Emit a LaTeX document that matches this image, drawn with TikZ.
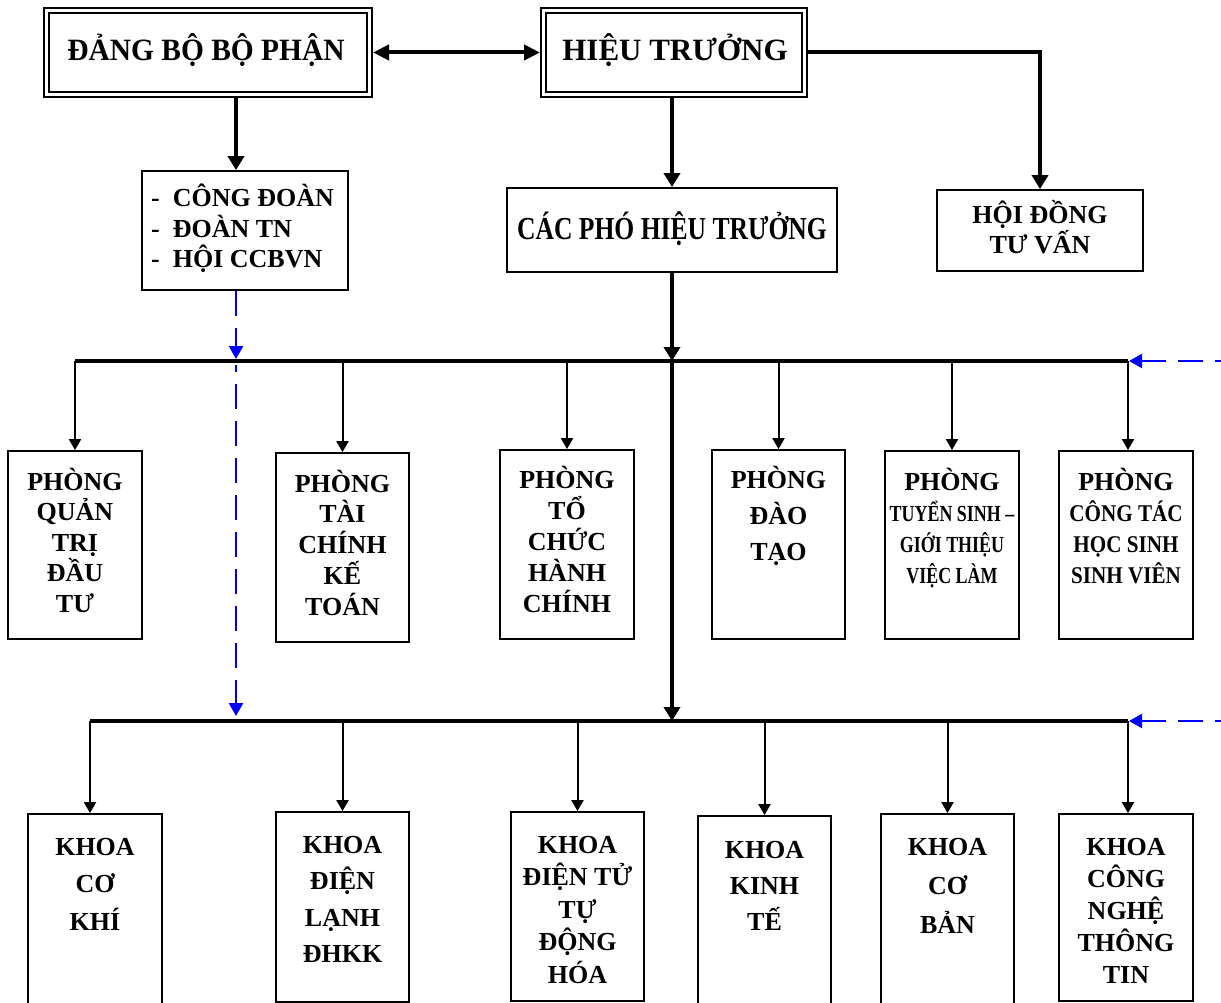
\documentclass[tikz,border=0pt]{standalone}
\usepackage{fontspec}
\setmainfont{Liberation Serif}
\newfontfamily\condA{Liberation Serif}[FakeStretch=0.8]
\newfontfamily\condB{Liberation Serif}[FakeStretch=0.78]
\newfontfamily\condC{Liberation Serif}[FakeStretch=0.88]
\newfontfamily\condD{Liberation Serif}[FakeStretch=0.95]
\usetikzlibrary{arrows.meta}
\tikzset{
  bx/.style={draw, line width=1.8pt, inner sep=0pt},
  dbl/.style={draw, line width=2pt, double, double distance=3pt, inner sep=0pt, outer sep=3.5pt},
  txt/.style={align=center, anchor=base, inner sep=0pt, font=\bfseries\fontsize{26}{31}\selectfont},
  thk/.style={line width=4pt},
  thkarr/.style={line width=4pt, -{Triangle[length=14pt,width=16pt]}},
  thnarr/.style={line width=2pt, -{Triangle[length=11pt,width=12pt]}},
  bluarr/.style={draw=blue, line width=2.5pt, dash pattern=on 25pt off 12pt, -{Triangle[length=13pt,width=14pt]}}
}
\begin{document}
\begin{tikzpicture}[x=1pt, y=-1pt]
\useasboundingbox (0,0) rectangle (1221,1003);
\clip (0,0) rectangle (1221,1003);

% top level (text anchors are at the baseline of the LAST line)
\node[dbl, minimum width=323pt, minimum height=84pt] (dang) at (208,52.5) {};
\node[txt, font=\condD\bfseries\fontsize{31}{36}\selectfont] (dangt) at (206,61) {ĐẢNG BỘ BỘ PHẬN};
\node[dbl, minimum width=261pt, minimum height=84pt] (ht) at (674,52.5) {};
\node[txt, font=\bfseries\fontsize{31}{36}\selectfont] (htt) at (675,61) {HIỆU TRƯỞNG};

% second level
\node[bx, minimum width=206pt, minimum height=119pt] (cd) at (245,230.5) {};
\node[txt, align=left, anchor=base west] (cdt) at (151,268) {-\hspace{13pt}CÔNG ĐOÀN\\-\hspace{13pt}ĐOÀN TN\\-\hspace{13pt}HỘI CCBVN};
\node[bx, minimum width=330pt, minimum height=84pt] (cp) at (672,230) {};
\node[txt, font=\condA\bfseries\fontsize{32}{36}\selectfont] (cpt) at (672,240) {CÁC PHÓ HIỆU TRƯỞNG};
\node[bx, minimum width=206pt, minimum height=81pt] (hd) at (1040,230.5) {};
\node[txt, font=\bfseries\fontsize{26}{30}\selectfont] (hdt) at (1040,254) {HỘI ĐỒNG\\TƯ VẤN};

% phong row
\node[bx, minimum width=134pt, minimum height=188pt] (p1) at (75,545) {};
\node[txt, font=\bfseries\fontsize{26}{30.5}\selectfont] (p1t) at (75,612) {PHÒNG\\QUẢN\\TRỊ\\ĐẦU\\TƯ};
\node[bx, minimum width=133pt, minimum height=189pt] (p2) at (342.5,547.5) {};
\node[txt, font=\bfseries\fontsize{26}{30.7}\selectfont] (p2t) at (342.5,615) {PHÒNG\\TÀI\\CHÍNH\\KẾ\\TOÁN};
\node[bx, minimum width=134pt, minimum height=189pt] (p3) at (567,544.5) {};
\node[txt, font=\bfseries\fontsize{26}{31}\selectfont] (p3t) at (567,612) {PHÒNG\\TỔ\\CHỨC\\HÀNH\\CHÍNH};
\node[bx, minimum width=133pt, minimum height=189pt] (p4) at (778.5,544.5) {};
\node[txt, font=\bfseries\fontsize{26}{36}\selectfont] (p4t) at (778.5,560) {PHÒNG\\ĐÀO\\TẠO};
\node[bx, minimum width=134pt, minimum height=188pt] (p5) at (952,545) {};
\node[txt, font=\bfseries\fontsize{26}{31}\selectfont] (p5t) at (952,583) {PHÒNG\\{\condB\bfseries\fontsize{23}{31}\selectfont TUYỂN SINH –}\\{\condB\bfseries\fontsize{23}{31}\selectfont GIỚI THIỆU}\\{\condB\bfseries\fontsize{23}{31}\selectfont VIỆC LÀM}};
\node[bx, minimum width=134pt, minimum height=188pt] (p6) at (1126,545) {};
\node[txt, font=\bfseries\fontsize{26}{31}\selectfont] (p6t) at (1126,583) {PHÒNG\\{\condC\bfseries\fontsize{24}{31}\selectfont CÔNG TÁC}\\{\condC\bfseries\fontsize{24}{31}\selectfont HỌC SINH}\\{\condC\bfseries\fontsize{24}{31}\selectfont SINH VIÊN}};

% khoa row
\node[bx, minimum width=134pt, minimum height=196pt] (k1) at (95,912) {};
\node[txt, font=\bfseries\fontsize{26}{37.5}\selectfont] (k1t) at (95,930) {KHOA\\CƠ\\KHÍ};
\node[bx, minimum width=133pt, minimum height=190pt] (k2) at (342.5,907) {};
\node[txt, font=\bfseries\fontsize{26}{36.5}\selectfont] (k2t) at (342.5,962.5) {KHOA\\ĐIỆN\\LẠNH\\ĐHKK};
\node[bx, minimum width=133pt, minimum height=189pt] (k3) at (577.5,906.5) {};
\node[txt, font=\bfseries\fontsize{26}{32.5}\selectfont] (k3t) at (577.5,983) {KHOA\\ĐIỆN TỬ\\TỰ\\ĐỘNG\\HÓA};
\node[bx, minimum width=133pt, minimum height=194pt] (k4) at (764.5,913) {};
\node[txt, font=\bfseries\fontsize{26}{36}\selectfont] (k4t) at (764.5,930) {KHOA\\KINH\\TẾ};
\node[bx, minimum width=133pt, minimum height=196pt] (k5) at (947.5,912) {};
\node[txt, font=\bfseries\fontsize{26}{39}\selectfont] (k5t) at (947.5,933) {KHOA\\CƠ\\BẢN};
\node[bx, minimum width=134pt, minimum height=187pt] (k6) at (1126,907.5) {};
\node[txt, font=\bfseries\fontsize{26}{32}\selectfont] (k6t) at (1126,983) {KHOA\\CÔNG\\NGHỆ\\THÔNG\\TIN};

% helper coordinates
\coordinate (dx) at (236,0);
\coordinate (b1w) at (75,361);
\coordinate (b1e) at (1128,361);
\coordinate (b2w) at (90,721);
\coordinate (b2e) at (1128,721);
\coordinate (j1) at (672,361);
\coordinate (j2) at (672,721);
\coordinate (bl1) at (236,359);
\coordinate (bl2) at (236,365);
\coordinate (bl3) at (236,716);
\coordinate (r1) at (1240,361);
\coordinate (r2) at (1240,721);

% top connectors
\draw[line width=4pt, {Triangle[length=16pt,width=15pt]}-{Triangle[length=16pt,width=15pt]}] (dang.east) -- (ht.west);
\draw[thkarr] (ht.east) -| (hd.north);
\draw[thkarr] (dx |- dang.south) -- (dx |- cd.north);
\draw[thkarr] (ht.south -| cp.north) -- (cp.north);
\draw[thkarr] (cp.south) -- (j1);
\draw[thkarr] (j1) -- (j2);

% buses
\draw[thk] (b1w) -- (b1e);
\draw[thk] (b2w) -- (b2e);

% phong arrows
\draw[thnarr] (b1w) -- (b1w |- p1.north);
\draw[thnarr] (b1w -| p2.north) -- (p2.north);
\draw[thnarr] (b1w -| p3.north) -- (p3.north);
\draw[thnarr] (b1w -| p4.north) -- (p4.north);
\draw[thnarr] (b1w -| p5.north) -- (p5.north);
\draw[thnarr] (b1e) -- (b1e |- p6.north);

% khoa arrows
\draw[thnarr] (b2w) -- (b2w |- k1.north);
\draw[thnarr] (b2w -| k2.north) -- (k2.north);
\draw[thnarr] (b2w -| k3.north) -- (k3.north);
\draw[thnarr] (b2w -| k4.north) -- (k4.north);
\draw[thnarr] (b2w -| k5.north) -- (k5.north);
\draw[thnarr] (b2e) -- (b2e |- k6.north);

% blue dashed
\draw[bluarr] (dx |- cd.south) -- (bl1);
\draw[bluarr, dash phase=18pt] (bl2) -- (bl3);
\draw[bluarr, shorten >=1pt] (r1) -- (b1e);
\draw[bluarr, shorten >=1pt] (r2) -- (b2e);
\end{tikzpicture}
\end{document}
